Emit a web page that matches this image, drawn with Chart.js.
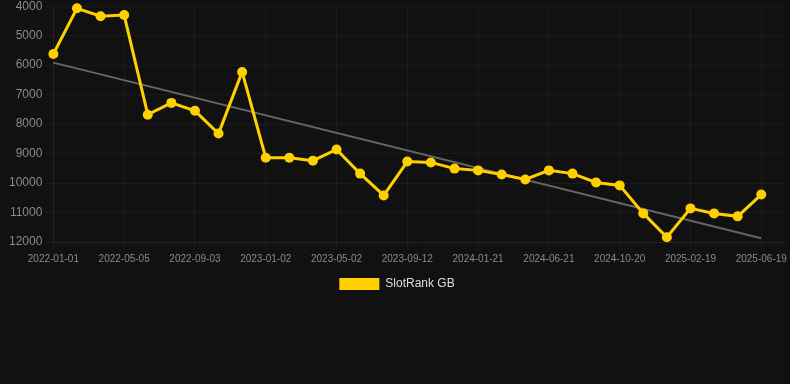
<!DOCTYPE html>
<html>
<head>
<meta charset="utf-8">
<script src="https://cdn.jsdelivr.net/npm/chart.js@4"></script>
<style>
    html, body { margin: 0; padding: 0; background: #111111; overflow: hidden; }
    #wrap { position: relative; width: 790px; height: 304px; margin-top: -4px; }
</style>
</head>
<body>
<div id="wrap"><canvas id="chart"></canvas></div>
<script>
/** DATA */

const dates = [
    '2022-01-01', '2022-02-11', '2022-03-24', '2022-05-05', '2022-06-14', '2022-07-24',
    '2022-09-03', '2022-10-13', '2022-11-22', '2023-01-02', '2023-02-11', '2023-03-23',
    '2023-05-02', '2023-06-15', '2023-07-30', '2023-09-12', '2023-10-26', '2023-12-08',
    '2024-01-21', '2024-03-11', '2024-05-01', '2024-06-21', '2024-08-01', '2024-09-10',
    '2024-10-20', '2024-11-30', '2025-01-09', '2025-02-19', '2025-03-31', '2025-05-10',
    '2025-06-19', '2025-07-30'
];

const rankGB = [
    5620, 4070, 4340, 4300, 7680, 7280, 7550, 8320, 6230, 9140, 9140, 9240,
    8860, 9680, 10420, 9270, 9300, 9510, 9570, 9710, 9880, 9570, 9680, 9980,
    10080, 11030, 11840, 10860, 11030, 11130, 10390, null
];

// trend: only start and end are known, the line joins them
const trend = dates.map(() => null);
trend[0] = 5915;
trend[30] = 11870;

const yTicks = { min: 4000, max: 12000, step: 1000 };

/** CHART */

const tickColor = '#8a8a8a';
const gridColor = 'rgba(255, 255, 255, 0.045)';
Chart.defaults.font.family = "'Liberation Sans', Arial, sans-serif";

const legendLabels = (chart) => {
    const items = Chart.defaults.plugins.legend.labels.generateLabels(chart);
    return items
        .filter(item => item.text !== 'trend')
        .map(item => ({ ...item, lineWidth: 0 }));
};

const ctx = document.getElementById('chart');
new Chart(ctx, {
    type: 'line',
    data: {
        labels: dates,
        datasets: [
            {
                label: 'SlotRank GB',
                data: rankGB,
                borderColor: '#ffd000',
                backgroundColor: '#ffd000',
                borderWidth: 3,
                pointRadius: 5,
                pointHoverRadius: 5,
                pointBackgroundColor: '#ffd000',
                pointBorderWidth: 0,
                tension: 0,
                clip: false
            },
            {
                label: 'trend',
                data: trend,
                borderColor: '#666666',
                borderWidth: 2,
                pointRadius: 0,
                spanGaps: true
            }
        ]
    },
    options: {
        responsive: true,
        maintainAspectRatio: false,
        animation: false,
        layout: { padding: { left: 6, right: 2 } },
        plugins: {
            legend: {
                position: 'bottom',
                labels: {
                    color: '#dddddd',
                    font: { size: 12 },
                    boxWidth: 40,
                    boxHeight: 12,
                    generateLabels: legendLabels
                }
            },
            tooltip: { enabled: false }
        },
        scales: {
            x: {
                grid: { color: gridColor },
                border: { color: gridColor },
                ticks: {
                    color: tickColor,
                    font: { size: 10 },
                    maxRotation: 0,
                    autoSkip: true
                }
            },
            y: {
                reverse: true,
                min: yTicks.min,
                max: yTicks.max,
                grid: { color: gridColor },
                border: { color: gridColor },
                ticks: {
                    color: tickColor,
                    font: { size: 12 },
                    stepSize: yTicks.step,
                    callback: (value) => String(value)
                }
            }
        }
    }
});
</script>
</body>
</html>
